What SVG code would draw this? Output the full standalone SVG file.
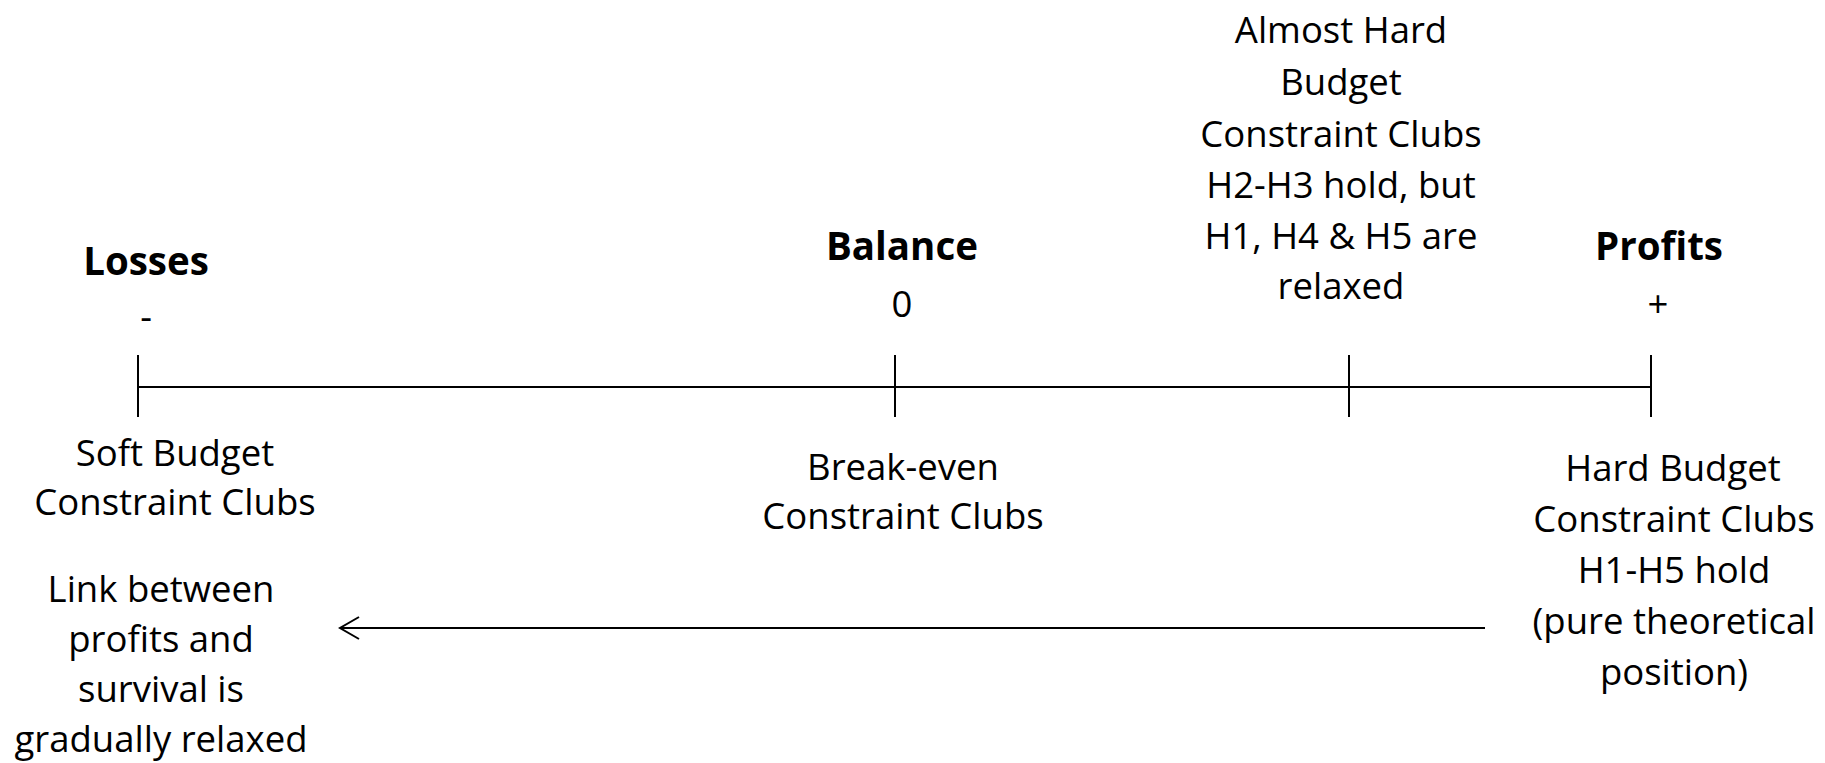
<svg xmlns="http://www.w3.org/2000/svg" width="1825" height="763" viewBox="0 0 1825 763">
<style>
text{font-family:"Open Sans","Liberation Sans",sans-serif;fill:#000;text-anchor:middle}
.r{font-size:36.5px}
.b{font-size:38.5px;font-weight:bold}
.ln{stroke:#000;stroke-width:2;fill:none}
</style>
<defs>
<marker id="ah" markerWidth="24" markerHeight="24" refX="20" refY="12" orient="auto" markerUnits="userSpaceOnUse">
<path d="M1 1 L20 12 L1 23" fill="none" stroke="#000" stroke-width="2"/>
</marker>
</defs>
<rect width="1825" height="763" fill="#fff"/>
<g id="connectors">
<line class="ln" x1="138" y1="387" x2="1651" y2="387"/>
<line class="ln" x1="138" y1="355" x2="138" y2="417"/>
<line class="ln" x1="895" y1="355" x2="895" y2="417"/>
<line class="ln" x1="1349" y1="355" x2="1349" y2="417"/>
<line class="ln" x1="1651" y1="355" x2="1651" y2="417"/>
<line class="ln" x1="1485" y1="628" x2="340" y2="628" marker-end="url(#ah)"/>
</g>
<g id="losses">
<text class="b" x="146" y="275">Losses</text>
<text class="r" x="146" y="330">-</text>
</g>
<g id="balance">
<text class="b" x="902" y="260">Balance</text>
<text class="r" x="902" y="317">0</text>
</g>
<g id="profits">
<text class="b" x="1659" y="260">Profits</text>
<text class="r" x="1658" y="317">+</text>
</g>
<g id="almost-hard">
<text class="r" x="1341"><tspan x="1341" y="43">Almost Hard</tspan><tspan x="1341" y="95">Budget</tspan><tspan x="1341" y="147">Constraint Clubs</tspan><tspan x="1341" y="198">H2-H3 hold, but</tspan><tspan x="1341" y="249">H1, H4 &amp; H5 are</tspan><tspan x="1341" y="299">relaxed</tspan></text>
</g>
<g id="soft">
<text class="r"><tspan x="175" y="466">Soft Budget</tspan><tspan x="175" y="515">Constraint Clubs</tspan></text>
</g>
<g id="break-even">
<text class="r"><tspan x="903" y="480">Break-even</tspan><tspan x="903" y="529">Constraint Clubs</tspan></text>
</g>
<g id="hard">
<text class="r"><tspan x="1673" y="481">Hard Budget</tspan><tspan x="1674" y="532">Constraint Clubs</tspan><tspan x="1674" y="583">H1-H5 hold</tspan><tspan x="1674" y="634">(pure theoretical</tspan><tspan x="1674" y="685">position)</tspan></text>
</g>
<g id="link">
<text class="r"><tspan x="161" y="602">Link between</tspan><tspan x="161" y="652">profits and</tspan><tspan x="161" y="702">survival is</tspan><tspan x="161" y="752">gradually relaxed</tspan></text>
</g>
</svg>
